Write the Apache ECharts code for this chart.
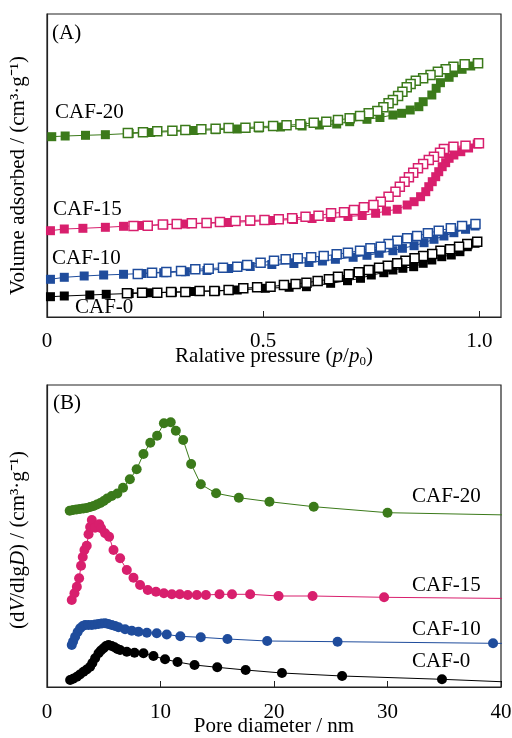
<!DOCTYPE html>
<html>
<head>
<meta charset="utf-8">
<script src="https://cdn.jsdelivr.net/npm/echarts@6/dist/echarts.min.js"></script>
<style>
  html, body { margin: 0; padding: 0; background: #fff; }
  #chart { width: 512px; height: 738px; }
</style>
</head>
<body>
<div id="chart"></div>
<script>
// (A) N2 isotherms, [p/p0, volume] (stacked offsets, no scale shown)
var caf0Ads = [[0.008,20.3],[0.04,21],[0.099,22],[0.137,22.7],[0.19,23.5],[0.24,24.2],[0.29,24.8],[0.34,25.5],[0.39,26],[0.44,27],[0.505,28.7],[0.56,29.7],[0.6,30.3],[0.656,33.7],[0.695,36.3],[0.725,38.7],[0.75,42],[0.779,44.3],[0.8,47],[0.823,48.7],[0.848,50.3],[0.87,53.7],[0.89,57],[0.913,60.3],[0.935,62],[0.955,65.3],[0.972,70.3],[0.99,73.7]];
var caf0Des = [[0.995,75.3],[0.972,73],[0.953,70.3],[0.932,67.7],[0.91,66.3],[0.891,63],[0.87,61],[0.85,58.7],[0.829,56.3],[0.81,53.7],[0.788,51.3],[0.768,49.3],[0.744,47],[0.721,44.7],[0.698,42.7],[0.673,40.3],[0.652,37.7],[0.626,36],[0.6,34.3],[0.575,33],[0.548,32],[0.517,30.3],[0.486,29.7],[0.454,28.7],[0.42,27],[0.387,26],[0.353,26],[0.32,25],[0.287,25],[0.255,24.3],[0.22,24.3],[0.185,23.7]];
var caf10Ads = [[0.008,37.7],[0.04,39.7],[0.086,41],[0.131,42],[0.177,42.7],[0.22,43.5],[0.27,44.3],[0.32,45.3],[0.37,46.5],[0.42,48.5],[0.47,50.5],[0.52,52.5],[0.571,53.5],[0.606,54.5],[0.637,56],[0.667,57.7],[0.708,59.7],[0.74,61.7],[0.768,63.7],[0.8,66.3],[0.822,68.7],[0.849,71.3],[0.872,74.3],[0.895,77.7],[0.918,81],[0.941,84.3],[0.968,87.7],[0.99,91]];
var caf10Des = [[0.991,93],[0.96,91],[0.934,88.7],[0.906,86.3],[0.881,83.7],[0.856,81],[0.833,78.7],[0.81,76.3],[0.79,73],[0.772,70.3],[0.748,68.7],[0.724,66.3],[0.696,64.3],[0.67,62.7],[0.64,61],[0.611,59.7],[0.58,58.7],[0.552,57.7],[0.525,56.3],[0.494,54.3],[0.463,52],[0.44,50.3],[0.407,49.3],[0.374,48.3],[0.343,47.7],[0.31,46],[0.276,45],[0.243,44.3],[0.21,43]];
var caf15Ads = [[0.008,86.3],[0.04,88],[0.083,88.7],[0.135,89.7],[0.177,90.7],[0.22,91.5],[0.27,92.3],[0.32,93],[0.37,93.7],[0.42,94.5],[0.47,95.5],[0.52,96.5],[0.57,97.5],[0.613,98.5],[0.656,99.5],[0.696,100.5],[0.729,101.5],[0.76,103.7],[0.785,106],[0.81,107.7],[0.833,112],[0.849,115.3],[0.864,120.3],[0.876,125.3],[0.883,130.3],[0.891,135.3],[0.899,140.3],[0.906,145.3],[0.914,150.3],[0.922,154.3],[0.93,158.7],[0.941,162],[0.957,165.3],[0.975,169],[0.995,173]];
var caf15Des = [[0.999,173.7],[0.968,171.3],[0.94,170.3],[0.918,168],[0.909,164.3],[0.895,160.3],[0.883,157],[0.87,153],[0.858,148.7],[0.847,144.3],[0.837,139.7],[0.827,135.3],[0.816,130.3],[0.806,125.3],[0.79,120.3],[0.772,115.3],[0.755,112],[0.733,109.7],[0.71,107],[0.687,104.7],[0.657,103.7],[0.628,101.3],[0.598,100.3],[0.567,98.7],[0.536,97.7],[0.503,97],[0.47,96.5],[0.436,96],[0.4,95],[0.369,94],[0.335,93.7],[0.3,93],[0.268,92.5],[0.233,91.3],[0.2,91]];
var caf20Ads = [[0.011,180.3],[0.042,181],[0.089,181.7],[0.135,182.3],[0.19,183.5],[0.24,184.5],[0.29,185.5],[0.34,186.5],[0.39,187.3],[0.44,188],[0.49,189],[0.54,190],[0.59,191],[0.63,192],[0.67,193],[0.7,195.3],[0.74,197.7],[0.77,199.5],[0.8,202],[0.82,203.7],[0.84,207],[0.86,210.3],[0.87,215.3],[0.89,222],[0.9,228.7],[0.91,234.3],[0.93,239.7],[0.94,244.3],[0.96,247.7],[0.98,251],[0.995,253.7]];
var caf20Des = [[0.997,253.7],[0.966,252.7],[0.94,250.3],[0.922,247.7],[0.904,245.3],[0.887,242],[0.87,238.7],[0.853,236.3],[0.841,233],[0.832,229.7],[0.822,225.3],[0.812,221],[0.8,217],[0.79,213.7],[0.778,209.7],[0.764,206],[0.744,203.7],[0.724,201],[0.7,198.7],[0.673,197],[0.646,195.3],[0.617,194.3],[0.586,192.7],[0.554,191.7],[0.523,191],[0.49,190.3],[0.459,189.3],[0.42,189],[0.39,188.3],[0.357,187.7],[0.32,187],[0.29,186.3],[0.255,185.7],[0.222,184.7],[0.187,184]];

// (B) pore size distribution, [D / nm, dV/dlgD] (stacked offsets)
var caf0Psd = [[2.04,7],[2.3,8.3],[2.63,10.3],[2.9,12.5],[3.22,15.3],[3.5,17.5],[3.8,20.3],[4.0,24],[4.24,28.7],[4.54,33.7],[4.75,36.5],[4.98,38.7],[5.2,41],[5.42,42],[5.7,41],[5.95,39.7],[6.2,38],[6.44,37],[7.03,35.3],[7.71,34.3],[8.5,33.7],[9.38,31],[10.4,27.7],[11.5,25],[13.0,22],[15.0,19.7],[17.5,17],[20.7,14],[26.0,11],[34.8,7.7],[46,2.5]];
var caf10Psd = [[2.18,42],[2.3,45.5],[2.48,50.3],[2.7,55],[2.92,58.7],[3.15,61],[3.36,62],[3.65,62],[3.95,62],[4.25,62.5],[4.54,63],[4.83,63.5],[5.12,63.7],[5.4,63],[5.7,62],[6.0,61],[6.3,59.7],[6.88,57.7],[7.47,56.3],[8.06,55.3],[8.8,54.3],[9.67,53.7],[10.55,52.5],[11.75,50.7],[13.55,49.7],[15.9,48],[19.4,46],[25.6,45.3],[39.3,43.7],[50,43]];
var caf15Psd = [[2.18,87],[2.42,93.7],[2.63,100.3],[2.83,108.7],[3.0,121.3],[3.15,130],[3.3,137],[3.5,141.3],[3.66,152.7],[3.8,160],[3.95,167],[4.24,159.3],[4.6,162.7],[4.77,158.7],[5.12,153.7],[5.47,150.3],[5.86,137],[6.44,128.7],[7.03,117],[7.62,109.3],[8.2,102],[8.88,97],[9.6,95.3],[10.3,93.7],[11.0,92.7],[11.7,92.7],[12.4,92],[13.2,92],[14.0,92],[15.2,92.7],[16.3,92.7],[17.9,92.7],[20.4,91],[23.4,91],[29.7,89.7],[50,87.5]];
var caf20Psd = [[2.0,176.3],[2.3,177],[2.6,177.5],[2.9,178],[3.2,178.5],[3.5,179],[3.8,180],[4.1,181],[4.4,182.5],[4.7,184],[5.0,186],[5.3,188.5],[5.7,191],[6.2,193.5],[6.7,199.3],[7.3,207.7],[7.9,217.7],[8.5,233],[9.1,244.3],[9.7,251.3],[10.3,263.7],[10.9,264.7],[11.35,256.3],[12.0,247],[12.7,223],[13.55,202.7],[14.9,193.7],[16.9,189.3],[19.6,185.3],[23.5,180.3],[30.0,174.3],[50,170]];

var pTicks = [0, 0.5, 1.0];
var dTicks = [0, 10, 20, 30, 40];
var names = ['CAF-0', 'CAF-10', 'CAF-15', 'CAF-20'];
var colors = ['#000000', '#1f4c9c', '#d81f6d', '#3b7a1a'];

var FONT = '"Liberation Serif", "Times New Roman", serif';
var FS = 21;
var AX = '#222';

var chart = echarts.init(document.getElementById('chart'));

function adsSeries(data, c) {
  return {
    type: 'line', xAxisIndex: 0, yAxisIndex: 0, data: data,
    symbol: 'rect', symbolSize: 9, showAllSymbol: true, silent: true,
    lineStyle: { color: c, width: 1 },
    itemStyle: { color: c }
  };
}
function desSeries(data, c) {
  return {
    type: 'line', xAxisIndex: 0, yAxisIndex: 0, data: data,
    symbol: 'rect', symbolSize: 9, showAllSymbol: true, silent: true,
    lineStyle: { color: c, width: 1 },
    itemStyle: { color: '#fff', borderColor: c, borderWidth: 1.5 }
  };
}
function psdSeries(data, c) {
  return {
    type: 'line', xAxisIndex: 1, yAxisIndex: 1, data: data,
    symbol: 'circle', symbolSize: 10, showAllSymbol: true, silent: true,
    lineStyle: { color: c, width: 1 },
    itemStyle: { color: c }
  };
}

var isoAds = [caf0Ads, caf10Ads, caf15Ads, caf20Ads];
var isoDes = [caf0Des, caf10Des, caf15Des, caf20Des];
var psd = [caf0Psd, caf10Psd, caf15Psd, caf20Psd];

var series = [];
for (var i = 0; i < 4; i++) {
  series.push(adsSeries(isoAds[i], colors[i]));
  series.push(desSeries(isoDes[i], colors[i]));
}
for (var j = 0; j < 4; j++) {
  series.push(psdSeries(psd[j], colors[j]));
}

var labelStyle = { fontFamily: FONT, fontSize: FS, color: '#000' };

function txt(x, y, s) {
  return { type: 'text', x: x, y: y, silent: true,
    style: { text: s, font: FS + 'px ' + FONT, fill: '#000', verticalAlign: 'middle' } };
}

var option = {
  animation: false,
  backgroundColor: '#fff',
  grid: [
    { left: 47, top: 14, width: 454, height: 303, show: true, borderColor: AX, borderWidth: 1.2,
      outerBoundsMode: 'none', containLabel: false },
    { left: 47, top: 385, width: 454, height: 302, show: true, borderColor: AX, borderWidth: 1.2,
      outerBoundsMode: 'none', containLabel: false }
  ],
  xAxis: [
    {
      gridIndex: 0, type: 'value', min: 0, max: 1.05,
      axisLine: { lineStyle: { color: AX, width: 1.2 } },
      axisTick: { inside: true, length: 6, customValues: pTicks, lineStyle: { color: AX } },
      axisLabel: Object.assign({ margin: 14, customValues: pTicks,
        formatter: function (v) { return v === 0 ? '0' : v.toFixed(1); } }, labelStyle),
      splitLine: { show: false },
      name: 'Ralative pressure ({i|p}/{i|p}{s|0})',
      nameLocation: 'middle', nameGap: 28, nameMoveOverlap: false,
      nameTextStyle: { fontFamily: FONT, fontSize: FS, color: '#000',
        rich: { i: { fontFamily: FONT, fontSize: FS, fontStyle: 'italic' },
                s: { fontFamily: FONT, fontSize: 13, padding: [10, 0, 0, 0] } } }
    },
    {
      gridIndex: 1, type: 'value', min: 0, max: 40, interval: 10,
      axisLine: { lineStyle: { color: AX, width: 1.2 } },
      axisTick: { inside: true, length: 6, customValues: dTicks, lineStyle: { color: AX } },
      axisLabel: Object.assign({ margin: 15, customValues: dTicks }, labelStyle),
      splitLine: { show: false },
      name: 'Pore diameter / nm',
      nameLocation: 'middle', nameGap: 29, nameMoveOverlap: false,
      nameTextStyle: { fontFamily: FONT, fontSize: FS, color: '#000' }
    }
  ],
  yAxis: [
    {
      gridIndex: 0, type: 'value', min: 0, max: 303,
      axisLine: { show: true, lineStyle: { color: AX, width: 1.2 } },
      axisTick: { show: false }, axisLabel: { show: false }, splitLine: { show: false },
      name: 'Volume adsorbed / (cm³·g⁻¹)',
      nameLocation: 'middle', nameGap: 18,
      nameTextStyle: { fontFamily: FONT, fontSize: FS, color: '#000', padding: [0, 20, 0, 0] }
    },
    {
      gridIndex: 1, type: 'value', min: 0, max: 302,
      axisLine: { show: true, lineStyle: { color: AX, width: 1.2 } },
      axisTick: { show: false }, axisLabel: { show: false }, splitLine: { show: false },
      name: '(d{i|V}/dlg{i|D}) / (cm³·g⁻¹)',
      nameLocation: 'middle', nameGap: 18,
      nameTextStyle: { fontFamily: FONT, fontSize: FS, color: '#000', padding: [0, 8, 0, 0],
        rich: { i: { fontFamily: FONT, fontSize: FS, fontStyle: 'italic' } } }
    }
  ],
  graphic: [
    txt(52, 33, '(A)'),
    txt(55, 112, names[3]),
    txt(53, 209, names[2]),
    txt(52, 258, names[1]),
    txt(75, 307, names[0]),
    txt(53, 403, '(B)'),
    txt(412, 496, names[3]),
    txt(412, 585, names[2]),
    txt(412, 629, names[1]),
    txt(412, 661, names[0])
  ],
  series: series
};

chart.setOption(option);
</script>
</body>
</html>
